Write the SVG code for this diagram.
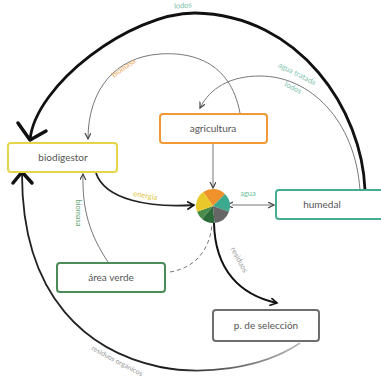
<svg xmlns="http://www.w3.org/2000/svg" width="381" height="379" viewBox="0 0 381 379">
<style>
.box{fill:#fff;stroke-width:2;}
.nt{font-family:Lato,"Noto Sans",sans-serif;font-size:10px;fill:#555;text-anchor:middle;}
.lb{font-family:Lato,"Noto Sans",sans-serif;font-size:7.5px;text-anchor:middle;}
.thin{fill:none;stroke:#777;stroke-width:1;}
.mid{fill:none;stroke:#222;stroke-width:1.8;}
.thick{fill:none;stroke:#111;stroke-width:2.8;}
.chev{fill:none;stroke:#111;stroke-width:3.5;stroke-linecap:round;stroke-linejoin:round;}
</style>
<defs>
<marker id="ar" markerWidth="8" markerHeight="8" refX="6" refY="3" orient="auto" markerUnits="userSpaceOnUse">
<path d="M0,0 L6,3 L0,6" fill="none" stroke="#444" stroke-width="1.2"/>
</marker>
<marker id="ars" markerWidth="8" markerHeight="8" refX="1" refY="3" orient="auto-start-reverse" markerUnits="userSpaceOnUse">
<path d="M6,0 L0,3 L6,6" fill="none" stroke="#444" stroke-width="1.2" transform="rotate(180 3 3)"/>
</marker>
<marker id="ark" markerWidth="10" markerHeight="10" refX="7" refY="4" orient="auto" markerUnits="userSpaceOnUse">
<path d="M0,0 L7,4 L0,8" fill="none" stroke="#111" stroke-width="1.6"/>
</marker>
<linearGradient id="fade" x1="300" y1="343" x2="160" y2="367" gradientUnits="userSpaceOnUse">
<stop offset="0" stop-color="#bbb"/>
<stop offset="1" stop-color="#111"/>
</linearGradient>
</defs>

<g id="connectors">
<!-- lodos big arc -->
<path class="thick" d="M 365 190 C 362 110, 300 15, 195 13 C 130 13, 35 85, 30 140"/>
<path class="chev" d="M 18 123 L 30 140 L 46 131"/>
<text class="lb" fill="#7cc2ab" x="183" y="8" transform="rotate(-4 183 8)">lodos</text>

<!-- agua tratada / lodos arc -->
<path class="thin" d="M 360 190 C 355 120, 310 76, 260 76 C 230 76, 210 88, 200 108" marker-end="url(#ar)"/>
<text class="lb" fill="#7cc2ab" x="296" y="76" transform="rotate(27 296 76)">agua tratada</text>
<text class="lb" fill="#7cc2ab" x="292" y="90" transform="rotate(27 292 90)">lodos</text>

<!-- biomasa arc (agricultura -> biodigestor) -->
<path class="thin" d="M 240 113 C 230 60, 190 52, 160 54 C 115 57, 88 90, 88 139" marker-end="url(#ar)"/>
<text class="lb" fill="#f0a860" x="125" y="70" transform="rotate(-35 125 70)">biomasa</text>

<!-- agricultura -> pie -->
<path class="thin" d="M 213 143 L 213 188" marker-end="url(#ar)"/>

<!-- energia -->
<path class="mid" d="M 96 173 C 105 200, 150 208, 194 205" marker-end="url(#ark)"/>
<text class="lb" fill="#e0c640" x="145" y="198" transform="rotate(10 145 198)">energia</text>

<!-- agua -->
<path class="thin" d="M 232 205 L 274 205" marker-start="url(#ars)" marker-end="url(#ar)"/>
<text class="lb" fill="#6fbfa5" x="248" y="196">agua</text>

<!-- area verde -> biodigestor -->
<path class="thin" d="M 108 262 C 90 235, 82 210, 83 174" marker-end="url(#ar)"/>
<text class="lb" fill="#6aa878" x="76" y="213" transform="rotate(90 76 213)">biomasa</text>

<!-- residuos organicos -->
<path fill="none" stroke="url(#fade)" stroke-width="1.8" d="M 300 343 C 260 370, 200 375, 160 367"/>
<path class="mid" d="M 160 367 C 90 352, 22 300, 22 174"/>
<path class="chev" d="M 13 183 L 22 172 L 32 183"/>
<text class="lb" fill="#999" style="font-size:7px" x="116" y="363" transform="rotate(28 116 363)">residuos orgánicos</text>

<!-- dashed area verde -> pie -->
<path fill="none" stroke="#777" stroke-width="1" stroke-dasharray="4 3" d="M 170 272 C 195 268, 210 250, 212 224"/>

<!-- residuos -->
<path fill="none" stroke="#111" stroke-width="2" d="M 214 223 C 215 270, 240 295, 277 303" marker-end="url(#ark)"/>
<text class="lb" fill="#999" x="237" y="261" transform="rotate(62 237 261)">residuos</text>
</g>

<g id="pie">
<path fill="#f0922b" d="M213 206 L203.25 192.07 A17 17 0 0 1 225.02 193.98 Z"/>
<path fill="#3daa90" d="M213 206 L225.02 193.98 A17 17 0 0 1 228.97 211.81 Z"/>
<path fill="#666" d="M213 206 L228.97 211.81 A17 17 0 0 1 214.48 222.94 Z"/>
<path fill="#2e6b3a" d="M213 206 L214.48 222.94 A17 17 0 0 1 202.07 219.02 Z"/>
<path fill="#4a8c4a" d="M213 206 L202.07 219.02 A17 17 0 0 1 197.03 211.81 Z"/>
<path fill="#e8c82a" d="M213 206 L197.03 211.81 A17 17 0 0 1 203.25 192.07 Z"/>
</g>

<g id="biodigestor">
<rect class="box" x="8" y="143" width="109" height="29" rx="3" stroke="#e6d44a"/>
<text class="nt" x="63" y="161">biodigestor</text>
</g>
<g id="agricultura">
<rect class="box" x="160" y="114" width="107" height="29" rx="3" stroke="#ef9a35"/>
<text class="nt" x="213" y="132">agricultura</text>
</g>
<g id="humedal">
<rect class="box" x="276" y="190" width="110" height="29" rx="3" stroke="#47ad92"/>
<text class="nt" x="322" y="208">humedal</text>
</g>
<g id="area-verde">
<rect class="box" x="57" y="263" width="108" height="29" rx="3" stroke="#4b8b58"/>
<text class="nt" x="111" y="281">área verde</text>
</g>
<g id="p-seleccion">
<rect class="box" x="213" y="310" width="106" height="31" rx="3" stroke="#6e6e6e"/>
<text class="nt" x="266" y="329">p. de selección</text>
</g>
</svg>
